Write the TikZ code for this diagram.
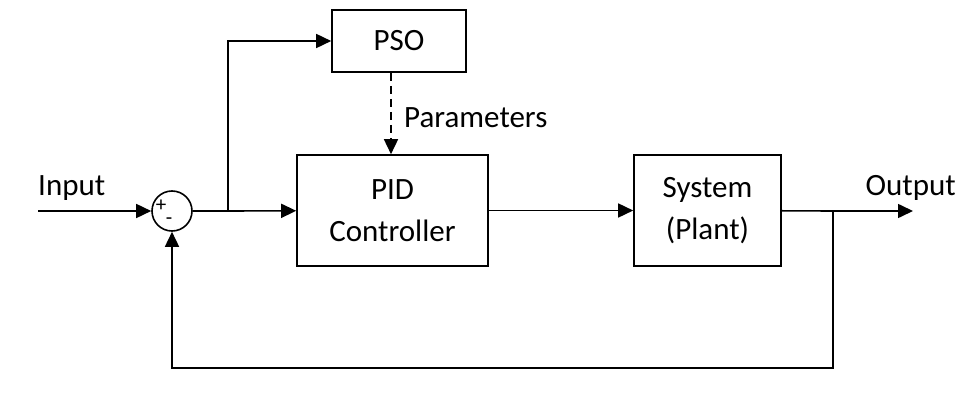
\documentclass[tikz,border=0pt]{standalone}
\usepackage{fontspec}
\setmainfont{Carlito}
\usetikzlibrary{arrows.meta, positioning}

\begin{document}
\begin{tikzpicture}[x=1pt, y=-1pt,
    font=\fontsize{31}{42}\selectfont,
    block/.style={draw, line width=1.6pt, align=center, inner sep=0pt},
    sumnode/.style={draw, circle, line width=1.6pt, minimum size=40pt, inner sep=0pt},
    sign/.style={font=\fontsize{21}{21}\selectfont, inner sep=0pt},
    arrow/.style={-{Triangle[length=15pt, width=14pt]}, line width=1.6pt},
    line/.style={line width=1.6pt},
]
\useasboundingbox (0,0) rectangle (979,403);

\node[block, minimum width=134pt, minimum height=62pt] (pso) at (399,41) {PSO};
\node[block, minimum width=191pt, minimum height=111pt] (pid) at (392.5,210.5) {PID\\Controller};
\node[block, minimum width=147pt, minimum height=111pt] (plant) at (707.5,210.5) {System\\(Plant)};
\node[sumnode] (sum) at (172,211) {};
\node[sign] (plus) at (161,206) {+};
\node[sign] (minus) at (169,221) {-};

\coordinate (input) at (38,211);
\coordinate (output) at (913,211);
\coordinate (split1) at (228,211);
\coordinate (split2) at (833,211);
\coordinate (feedback) at (833,368);

\node[anchor=south west, inner sep=0pt] (inlabel) at (38,201) {Input};
\node[anchor=south east, inner sep=0pt] (outlabel) at (956,201) {Output};
\node[anchor=west, inner sep=0pt] (parlabel) at (404,118) {Parameters};

\draw[arrow] (input) -- (sum);
\draw[line] (sum) -- (split1);
\draw[arrow] (split1) -- (pid);
\draw[arrow] (split1) |- (pso);
\draw[arrow, dashed, dash pattern=on 8pt off 5pt] (pso.south -| 391,0) -- (pid.north -| 391,0);
\draw[arrow] (pid) -- (plant);
\draw[line] (plant) -- (split2);
\draw[arrow] (split2) -- (output);
\draw[arrow] (split2) -- (feedback) -| (sum);

\end{tikzpicture}
\end{document}
